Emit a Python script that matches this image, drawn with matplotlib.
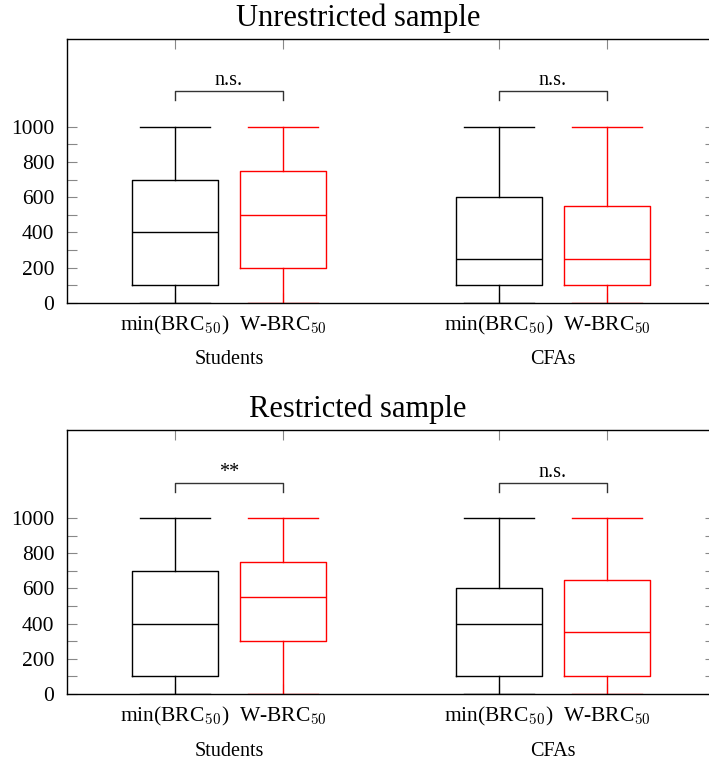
import matplotlib
matplotlib.use("Agg")
import matplotlib.pyplot as plt
import matplotlib.transforms as mtransforms
import numpy as np

plt.rcParams['font.family'] = ['Liberation Serif', 'DejaVu Serif']
plt.rcParams['mathtext.fontset'] = 'cm'

# data
groups = ['Students', 'CFAs']
measures = [r'min(BRC$_{50}$)', r'W-BRC$_{50}$']
panel_titles = ['Unrestricted sample', 'Restricted sample']

# box order: Students min, Students W, CFAs min, CFAs W
unr_whislo = [0, 0, 0, 0]
unr_q1 = [100, 200, 100, 100]
unr_med = [400, 500, 250, 250]
unr_q3 = [700, 750, 600, 550]
unr_whishi = [1000, 1000, 1000, 1000]
unr_sig = ['n.s.', 'n.s.']

res_whislo = [0, 0, 0, 0]
res_q1 = [100, 300, 100, 100]
res_med = [400, 550, 400, 350]
res_q3 = [700, 750, 600, 650]
res_whishi = [1000, 1000, 1000, 1000]
res_sig = ['**', 'n.s.']

positions = [1, 2, 4, 5]
colors = ['black', 'red', 'black', 'red']

panels = [
    (unr_whislo, unr_q1, unr_med, unr_q3, unr_whishi, unr_sig),
    (res_whislo, res_q1, res_med, res_q3, res_whishi, res_sig),
]

W, H = 709, 768
fig = plt.figure(figsize=(W / 100, H / 100), dpi=100)

# axes boxes in pixels: (left, top, right, bottom)
boxes_px = [(67, 38.5, 715, 303), (67, 430, 715, 694)]
title_y = [18, 409]

for k, (lo, q1, med, q3, hi, sig) in enumerate(panels):
    l, t, r, b = boxes_px[k]
    ax = fig.add_axes([l / W, 1 - b / H, (r - l) / W, (b - t) / H])

    for i in range(4):
        st = [dict(whislo=lo[i], q1=q1[i], med=med[i], q3=q3[i], whishi=hi[i], fliers=[])]
        c = colors[i]
        ax.bxp(st, positions=[positions[i]], widths=0.8, capwidths=0.64,
               showfliers=False, patch_artist=False,
               boxprops=dict(color=c, lw=1.0),
               medianprops=dict(color=c, lw=1.0),
               whiskerprops=dict(color=c, lw=1.0),
               capprops=dict(color=c, lw=1.0),
               manage_ticks=False)

    # significance brackets
    for g in range(2):
        x1, x2 = positions[2 * g], positions[2 * g + 1]
        ax.plot([x1, x1, x2, x2], [1150, 1200, 1200, 1150], color='#333333', lw=1.0)
        ax.text((x1 + x2) / 2, 1235, sig[g], ha='center', va='baseline', fontsize=14.5)

    ax.set_xlim(0, 6)
    ax.set_ylim(0, 1500)
    ax.set_xticks(positions)
    ax.set_xticklabels(measures * 2, fontsize=15.5)
    ax.set_yticks(np.arange(0, 1001, 200))
    ax.set_yticks(np.arange(100, 1000, 200), minor=True)
    ax.tick_params(axis='both', which='both', direction='in', length=7.5, width=0.8,
                   color='#888888', top=True, right=True)
    ax.tick_params(axis='y', which='major', labelsize=15.5, pad=9)
    ax.tick_params(axis='x', which='major', pad=8)
    for sp in ax.spines.values():
        sp.set_linewidth(1.0)
        sp.set_color('black')

    trans = mtransforms.blended_transform_factory(ax.transData, ax.transAxes)
    for g in range(2):
        xc = (positions[2 * g] + positions[2 * g + 1]) / 2
        ax.text(xc, -57 / (b - t), groups[g], transform=trans, ha='center',
                va='center', fontsize=14.5)

    fig.text(358 / W, 1 - title_y[k] / H, panel_titles[k], ha='center', va='center',
             fontsize=22)

fig.savefig('out.png', dpi=100)
